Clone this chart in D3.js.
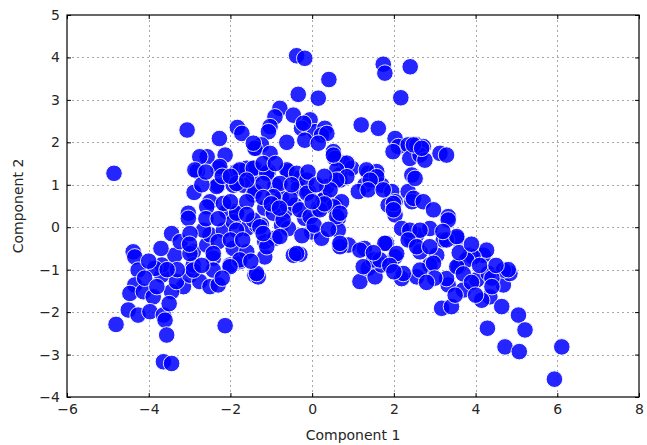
<!DOCTYPE html>
<html>
<head>
<meta charset="utf-8">
<script src="https://cdn.jsdelivr.net/npm/d3@7/dist/d3.min.js"></script>
<style>
  html, body { margin: 0; padding: 0; background: #fff; }
  svg { display: block; font-family: "DejaVu Sans", sans-serif; }
</style>
</head>
<body>
<svg id="chart" width="647" height="445"></svg>
<script>
// ---- data ----
const xTicks = [-6, -4, -2, 0, 2, 4, 6, 8];
const yTicks = [-4, -3, -2, -1, 0, 1, 2, 3, 4, 5];
const xLabel = "Component 1";
const yLabel = "Component 2";

const points = [
[-3.06,2.29],[-4.85,1.27],[-2.27,2.09],[-1.83,2.35],[-1.72,2.21],[-1.36,1.86],[-2.57,1.66],[-2.13,1.70],[-2.81,1.32],[-2.30,1.39],[-2.89,0.82],[-2.50,0.60],[-2.30,0.99],[-1.85,1.31],[-1.60,1.39],[-1.44,1.23],[-1.69,0.99],[-1.44,0.76],[-1.93,0.99],[-3.03,0.33],[-2.09,0.37],[-1.85,0.37],
[-0.38,4.04],[-0.18,3.98],[0.41,3.48],[-0.34,3.13],[0.15,3.04],[1.74,3.84],[1.78,3.63],[2.40,3.78],[2.17,3.05],[-0.79,2.80],[-0.91,2.60],[-0.46,2.64],[-1.03,2.37],[-0.05,2.53],[-0.26,2.33],[0.07,2.25],[0.31,2.33],[0.23,2.17],[-0.18,2.05],[-0.62,2.00],[-1.07,2.25],[-1.24,1.94],[-1.40,1.86],[0.52,1.78],[0.76,1.51],[0.56,1.62],[0.97,1.39],[0.68,1.23],[1.20,2.41],[1.62,2.33],[2.03,2.09],[2.11,1.90],[1.98,1.78],[2.35,1.94],[2.39,1.62],[2.44,1.23],[1.37,1.27],[1.58,1.31],[1.46,1.07],[1.70,0.99],[1.95,0.84],[2.03,0.60],[1.29,0.99],[1.13,0.84],[-1.40,1.39],[-1.07,1.31],[-0.58,1.31],[-0.34,1.15],[-1.40,0.84],[-0.91,0.99],[-0.75,0.68],[-0.34,0.92],[-0.09,0.84],[0.31,0.68],[0.15,0.45],[0.56,0.52],[0.72,0.60],[-1.16,0.45],[-0.67,0.37],[-0.42,0.52],[2.35,0.84],[2.44,0.60],[1.86,0.52],
[2.56,1.94],[2.72,1.90],[2.64,1.70],[2.76,1.58],[3.13,1.74],[3.29,1.70],[2.52,1.15],[2.48,0.68],[2.72,0.60],[2.97,0.41],[3.33,0.25],
[-3.44,-0.15],[-4.38,-0.58],[-4.34,-0.70],[-4.26,-1.01],[-3.68,-1.13],[-3.36,-0.66],[-4.34,-1.36],[-4.46,-1.56],[-4.13,-1.52],[-3.89,-1.64],[-4.50,-1.95],[-4.26,-2.07],[-3.97,-1.99],[-3.64,-2.07],[-3.60,-2.19],[-3.56,-2.54],[-4.80,-2.29],[-2.13,-2.32],[-3.64,-3.17],[-3.44,-3.21],[-3.15,-1.40],[-3.44,-1.52],[-3.32,-1.28],[-3.68,-0.89],[-3.85,-0.97],[-2.99,-1.13],[-2.75,-1.28],[-2.50,-1.40],[-2.30,-1.36],[-2.91,-0.58],[-2.58,-0.42],[-2.91,-0.89],[-2.42,-0.73],[-2.01,-0.89],[-1.77,-0.81],[-3.23,-0.34],[-3.03,0.21],[-2.50,-0.18],[-2.17,-0.07],[-1.93,0.13],[-1.60,-0.03],[-1.36,0.05],[-1.93,-0.50],[-1.60,-0.58],[-1.40,-1.13],[-2.30,-0.34],[-2.66,-0.07],
[-1.24,0.05],[-0.75,0.05],[-0.18,0.21],[-0.01,-0.11],[0.23,-0.26],[0.64,0.21],[0.64,-0.07],[-0.30,-0.64],[-0.46,-0.66],[-1.16,-0.70],[-1.32,-1.17],[0.68,-0.42],[0.89,-0.42],[1.28,-0.50],[1.17,-1.28],[1.37,-0.97],[1.54,-1.17],[1.70,-0.89],[1.82,-0.38],[2.03,-0.70],[2.19,-1.21],[2.35,-0.15],[2.44,-0.30],[2.03,0.29],[2.19,-0.03],[-1.16,-0.34],[-0.91,-0.26],[-0.58,-0.03],
[3.33,0.17],[2.56,-0.18],[2.88,-0.03],[2.64,-0.58],[3.05,-0.66],[3.21,-0.30],[3.54,-0.26],[3.86,-0.66],[4.19,-0.66],[3.58,-0.93],[2.56,-1.17],[3.33,-1.36],[3.70,-1.48],[4.03,-1.24],[4.31,-1.09],[4.68,-1.36],[4.84,-1.09],[4.35,-1.64],[4.15,-1.72],[4.64,-1.87],[3.17,-1.91],[3.41,-1.87],[5.05,-2.07],[5.21,-2.42],[4.29,-2.38],[4.72,-2.82],[5.07,-2.93],[6.11,-2.82],[5.93,-3.58],[2.88,-0.89],[3.29,-1.21],[4.27,-0.54],
[-0.21,2.45],[0.36,2.21],[0.15,1.98],[-1.44,1.98],[-1.03,1.74],[0.85,1.51],[0.60,1.35],[1.33,1.35],[1.58,1.19],[-2.75,1.66],[-2.87,1.35],[-2.26,1.43],[-1.77,1.35],[-1.44,1.39],[-1.11,1.27],[-0.62,1.35],[-0.38,1.27],[-2.34,0.96],[-1.85,1.03],[-1.60,1.11],[-1.20,1.03],[-0.79,1.03],[-0.13,1.11],[0.36,0.96],[0.68,1.11],[-0.95,0.72],[-0.54,0.68],[-0.13,0.80],[0.27,0.64],[0.52,0.48],[-2.58,0.48],[-2.17,0.56],[-1.85,0.33],[-1.44,0.17],[-1.28,0.01],[-0.95,0.33],[-0.71,0.17],[-0.30,0.41],[-0.05,0.25],[0.19,0.41],[0.60,0.25],[0.68,-0.46],[-0.38,-0.62],[-2.99,-0.15],[-1.85,-0.07],[-2.99,-0.62],[-2.42,-0.62],[-1.77,-0.77],[-2.91,-1.01],[-2.42,-1.01],[-2.01,-0.93],[-1.36,-1.09],[-1.11,-0.46],[-0.79,-0.22],[-1.20,-0.15],[1.17,-0.54],[1.50,-0.77],[1.25,-0.93],
[2.48,1.94],[2.68,1.86],[0.52,1.70],[1.42,1.11],[1.37,0.88],[1.74,0.88],[1.99,0.56],[1.99,0.41],[2.39,-0.07],[2.64,-0.07],[2.35,-0.30],[2.56,-0.46],[2.88,-0.46],[3.29,-0.30],[3.54,-0.22],[3.94,-0.70],[3.78,-0.77],[0.85,1.19],[0.60,1.11],[0.68,0.33],[0.44,0.88],[0.68,-0.38],[1.78,-0.38],[2.07,-0.62],[1.66,-0.77],[2.23,-1.09],[2.64,-1.01],[2.97,-0.85],[3.54,-0.93],[4.68,-1.01],[4.80,-1.00],
[0.05,0.05],[0.40,-0.05],[-0.25,-0.20],[0.30,0.55],[0.00,0.60],
[-3.30,-1.00],[-3.00,-0.40],[-2.70,-0.90],[-2.20,-1.20],[-2.00,-0.30],[-1.70,-0.30],[-1.50,-0.80],[-2.60,0.20],[-2.30,0.20],[-2.00,0.60],[-1.60,0.60],[-1.20,0.70],[-1.00,0.55],[-0.80,0.45],[-1.60,0.30],[-2.20,1.20],[-2.00,1.20],[-1.20,1.50],[-0.90,1.50],[-0.50,1.00],[-0.10,1.30],[0.10,1.00],[0.30,1.20],[-2.70,1.00],[-2.60,1.30],
[3.00,-1.20],[3.70,-1.10],[3.90,-1.30],[4.10,-0.90],[4.40,-1.20],[4.50,-0.90],[3.20,-0.10],[3.60,-0.60],[2.80,-1.30],[3.90,-0.40],[4.00,-1.60],[4.40,-1.40],[3.50,-1.60],
[1.50,-0.60],[1.90,-0.90],[2.00,-1.05],
[-4.10,-1.20],[-3.80,-1.40],[-3.50,-1.80],[-4.00,-0.80],[-3.70,-0.50],[-3.55,-1.00]
];
const comp1 = points.map(p => p[0]);
const comp2 = points.map(p => p[1]);

// ---- layout ----
const svg = d3.select("#chart");
const L = 67, R = 639, T = 15, B = 397;
const x = d3.scaleLinear().domain([-6, 8]).range([L, R]);
const y = d3.scaleLinear().domain([-4, 5]).range([B, T]);

// grid
const grid = svg.append("g").attr("stroke", "#a8a8a8").attr("stroke-width", 1)
  .attr("stroke-dasharray", "2,3");
grid.selectAll(".gx").data(xTicks.slice(1, -1)).join("line")
  .attr("x1", d => Math.round(x(d)) + 0.5).attr("x2", d => Math.round(x(d)) + 0.5)
  .attr("y1", T).attr("y2", B);
grid.selectAll(".gy").data(yTicks.slice(1, -1)).join("line")
  .attr("y1", d => Math.round(y(d)) + 0.5).attr("y2", d => Math.round(y(d)) + 0.5)
  .attr("x1", L).attr("x2", R);

// points
svg.append("clipPath").attr("id", "clip").append("rect")
  .attr("x", L).attr("y", T).attr("width", R - L).attr("height", B - T);
svg.append("g").attr("clip-path", "url(#clip)")
  .selectAll("circle").data(comp1).join("circle")
  .attr("cx", (d, i) => x(comp1[i]))
  .attr("cy", (d, i) => y(comp2[i]))
  .attr("r", 8.3)
  .attr("fill", "#0000ff")
  .attr("stroke", "#ffffff")
  .attr("stroke-width", 1)
  .attr("opacity", 0.85);

// axes (inward ticks)
const tickColor = "#000";
function styleAxis(g) {
  g.select(".domain").remove();
  g.selectAll(".tick line").attr("stroke", tickColor);
  g.selectAll(".tick text").attr("fill", "#262626").style("font-size", "14px")
    .style("font-family", "'DejaVu Sans', sans-serif");
}
svg.append("g").attr("transform", `translate(0,${B})`)
  .call(d3.axisBottom(x).tickValues(xTicks).tickSizeInner(-4).tickSizeOuter(0).tickPadding(7))
  .call(styleAxis);
svg.append("g").attr("transform", `translate(${L},0)`)
  .call(d3.axisLeft(y).tickValues(yTicks).tickSizeInner(-4).tickSizeOuter(0).tickPadding(7))
  .call(styleAxis);
svg.append("g").attr("transform", `translate(0,${T})`)
  .call(d3.axisTop(x).tickValues(xTicks).tickSizeInner(-4).tickSizeOuter(0).tickFormat(""))
  .call(styleAxis);
svg.append("g").attr("transform", `translate(${R},0)`)
  .call(d3.axisRight(y).tickValues(yTicks).tickSizeInner(-4).tickSizeOuter(0).tickFormat(""))
  .call(styleAxis);

// frame
svg.append("rect").attr("x", L).attr("y", T).attr("width", R - L).attr("height", B - T)
  .attr("fill", "none").attr("stroke", "#000").attr("stroke-width", 1.2);

// labels
svg.append("text").attr("x", (L + R) / 2).attr("y", 440)
  .attr("text-anchor", "middle").attr("fill", "#262626")
  .style("font-size", "14px").text(xLabel);
svg.append("text").attr("transform", `translate(23,${(T + B) / 2}) rotate(-90)`)
  .attr("text-anchor", "middle").attr("fill", "#262626")
  .style("font-size", "14px").text(yLabel);
</script>
</body>
</html>
